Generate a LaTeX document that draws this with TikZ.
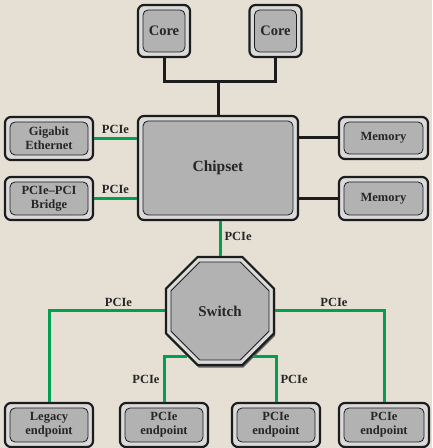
\documentclass[tikz,border=0pt]{standalone}
\usepackage{fontspec}
\setmainfont{Liberation Serif}
\usetikzlibrary{positioning}
\usetikzlibrary{shapes.geometric}
\usepackage{xcolor}

\definecolor{paper}{RGB}{230,224,212}
\definecolor{shell}{RGB}{218,218,218}
\definecolor{boxgray}{RGB}{178,178,178}
\definecolor{edge}{RGB}{28,28,28}
\definecolor{ink}{RGB}{38,38,38}
\definecolor{pciegreen}{RGB}{0,160,80}

\tikzset{
    outerbox/.style={draw=edge, line width=2.2pt, fill=shell, rounded corners=6pt, inner sep=0pt},
    innerbox/.style={draw=edge, line width=0.8pt, fill=boxgray, rounded corners=5pt, inner sep=0pt,
        text=ink, align=center, font=\bfseries\fontsize{12.5}{14}\selectfont},
    bigtext/.style={font=\bfseries\fontsize{15}{17}\selectfont},
    octo/.style={regular polygon, regular polygon sides=8, inner sep=0pt, draw=edge},
    bus/.style={draw=edge, line width=3pt},
    pcie/.style={draw=pciegreen, line width=3pt},
    lbl/.style={text=ink, inner sep=3pt, font=\bfseries\fontsize{12.5}{14}\selectfont},
}

% name, position, width, height, text
\newcommand{\unitbox}[5]{%
    \node[outerbox, minimum width=#3, minimum height=#4] (#1) at (#2) {};
    \node[innerbox, minimum width=#3-10pt, minimum height=#4-10pt] (#1in) at (#1) {#5};
}

\begin{document}
\begin{tikzpicture}[x=1pt, y=1pt]
    % Background
    \fill[paper] (0,0) rectangle (432,448);
    \useasboundingbox (0,0) rectangle (432,448);

    % Processors and chipset
    \unitbox{coreA}{164,417}{52pt}{52pt}{\bfseries\fontsize{14.5}{16}\selectfont Core}
    \unitbox{coreB}{275.5,417}{52pt}{52pt}{\bfseries\fontsize{14.5}{16}\selectfont Core}
    \unitbox{chip}{218,280}{160pt}{104pt}{\bfseries\fontsize{15.5}{17}\selectfont Chipset}

    % Side devices
    \unitbox{eth}{49,309.5}{88pt}{43pt}{Gigabit\\Ethernet}
    \unitbox{bridge}{49,249.5}{88pt}{43pt}{PCIe--PCI\\Bridge}
    \unitbox{memA}{383.5,310}{89pt}{42pt}{Memory}
    \unitbox{memB}{383.5,249.5}{89pt}{43pt}{Memory}

    % Switch
    \node[octo, minimum size=117pt, draw=none, fill=edge!70] (switchshadow) at (221,134.5) {};
    \node[octo, minimum size=117pt, line width=2.2pt, fill=shell] (switch) at (220,137) {};
    \node[octo, minimum size=106pt, line width=0.8pt, fill=boxgray, text=ink, bigtext] (switchin) at (switch) {Switch};

    % Endpoints
    \unitbox{legacy}{49,23}{88pt}{44pt}{Legacy\\endpoint}
    \unitbox{epA}{164,23}{88pt}{44pt}{PCIe\\endpoint}
    \unitbox{epB}{276,23}{88pt}{44pt}{PCIe\\endpoint}
    \unitbox{epC}{384,23}{90pt}{44pt}{PCIe\\endpoint}

    % Core bus
    \coordinate (bus) at (218,366);
    \draw[bus] (coreA.south) |- (bus) -| (coreB.south);
    \draw[bus] (bus) -- (chip.north);

    % Memory links
    \draw[bus] (memA.west) -- (memA.west -| chip.east);
    \draw[bus] (memB.west) -- (memB.west -| chip.east);

    % PCIe links
    \draw[pcie] (eth.east) -- node[lbl, above] (lEth) {PCIe} (eth.east -| chip.west);
    \draw[pcie] (bridge.east) -- node[lbl, above] (lBridge) {PCIe} (bridge.east -| chip.west);
    \draw[pcie] (chip.south -| switch.north) -- node[lbl, right, pos=0.45] (lSwitch) {PCIe} (switch.north);
    \draw[pcie] (switch.west) -| node[lbl, above, pos=0.2] (lLegacy) {PCIe} (legacy.north);
    \draw[pcie] (switch.east) -| node[lbl, above, pos=0.27] (lEpC) {PCIe} (epC.north);
    \draw[pcie] (switch.234) -| node[lbl, left, pos=0.75] (lEpA) {PCIe} (epA.north);
    \draw[pcie] (switch.306) -| node[lbl, right, pos=0.75] (lEpB) {PCIe} (epB.north);
\end{tikzpicture}
\end{document}
